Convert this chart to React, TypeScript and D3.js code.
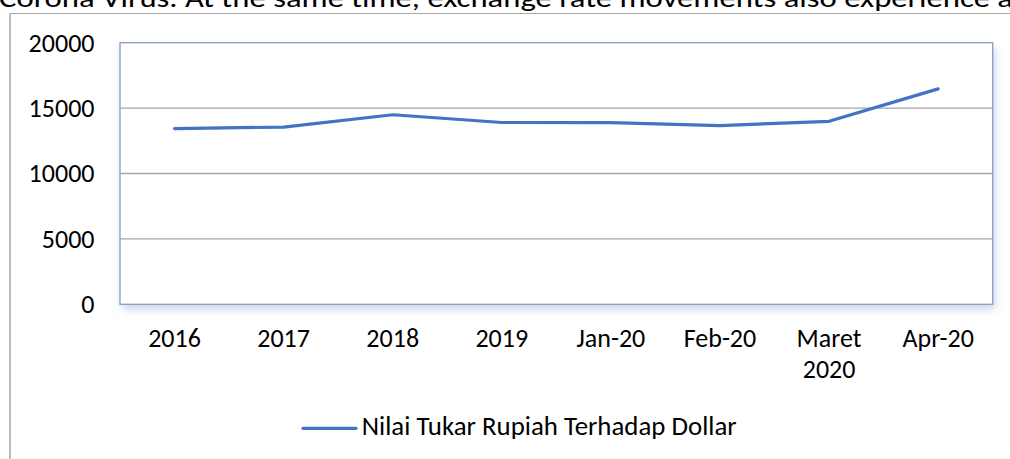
import React from "react";
import * as d3 from "d3";

const categories: string[][] = [["2016"], ["2017"], ["2018"], ["2019"], ["Jan-20"], ["Feb-20"], ["Maret", "2020"], ["Apr-20"]];
const values: number[] = [13436, 13548, 14490, 13900, 13895, 13665, 13990, 16470];
const yTicks: number[] = [0, 5000, 10000, 15000, 20000];
const seriesName = "Nilai Tukar Rupiah Terhadap Dollar";
const headerText = "Corona Virus. At the same time, exchange rate movements also experience a";

const W = 1010;
const H = 459;
const FONT = "Carlito, 'Open Sans', sans-serif";

export default function App() {
  const plot = { left: 120, top: 42.7, right: 992.7, bottom: 304.3 };
  const x = d3
    .scaleBand<number>()
    .domain(categories.map((_, i) => i))
    .range([plot.left, plot.right]);
  const y = d3.scaleLinear().domain([0, 20000]).range([plot.bottom, plot.top]);
  const cx = (i: number) => (x(i) as number) + x.bandwidth() / 2;
  const line = d3
    .line<number>()
    .x((_, i) => cx(i))
    .y((d) => y(d));

  return (
    <svg
      width={W}
      height={H}
      style={{ position: "absolute", left: 0, top: 0, background: "#fff" }}
      fontFamily={FONT}
    >
      <defs>
        <filter id="sh" x="-5%" y="-5%" width="110%" height="120%">
          <feDropShadow dx="2" dy="5" stdDeviation="4" floodColor="#9fb3d8" floodOpacity="0.55" />
        </filter>
      </defs>
      <text x={-1} y={7} fontSize={27} fill="#000" textLength={1014} lengthAdjust="spacingAndGlyphs">
        {headerText}
      </text>
      {/* outer chart frame */}
      <line x1={10} x2={W} y1={13.5} y2={13.5} stroke="#a6a6a6" strokeWidth={1.2} />
      <line x1={10} x2={10} y1={13.5} y2={H} stroke="#a6a6a6" strokeWidth={1.5} />

      {/* plot area */}
      <rect
        x={plot.left}
        y={plot.top}
        width={plot.right - plot.left}
        height={plot.bottom - plot.top}
        fill="#fff"
        filter="url(#sh)"
      />
      {yTicks.slice(1, -1).map((t) => (
        <line key={t} x1={plot.left} x2={plot.right} y1={y(t)} y2={y(t)} stroke="#a5a5a5" strokeWidth={1.3} />
      ))}
      <rect
        x={plot.left}
        y={plot.top}
        width={plot.right - plot.left}
        height={plot.bottom - plot.top}
        fill="none"
        stroke="#8ea3c3"
        strokeWidth={1.4}
      />
      {yTicks.map((t) => (
        <text key={t} x={94.5} y={y(t)} dy="0.34em" textAnchor="end" fontSize={26} fill="#000">
          {t}
        </text>
      ))}
      {categories.map((lines, i) => (
        <text key={i} x={cx(i)} y={347} textAnchor="middle" fontSize={26} fill="#000">
          {lines.map((l, j) => (
            <tspan key={j} x={cx(i)} dy={j === 0 ? 0 : 31}>
              {l}
            </tspan>
          ))}
        </text>
      ))}
      <path d={line(values) ?? ""} fill="none" stroke="#4472c4" strokeWidth={3.2} strokeLinejoin="round" strokeLinecap="round" />

      {/* legend */}
      <line x1={303} x2={356} y1={428.3} y2={428.3} stroke="#4472c4" strokeWidth={3.2} strokeLinecap="round" />
      <text x={361.7} y={435} fontSize={26} fill="#000" textLength={375} lengthAdjust="spacingAndGlyphs">
        {seriesName}
      </text>
    </svg>
  );
}
